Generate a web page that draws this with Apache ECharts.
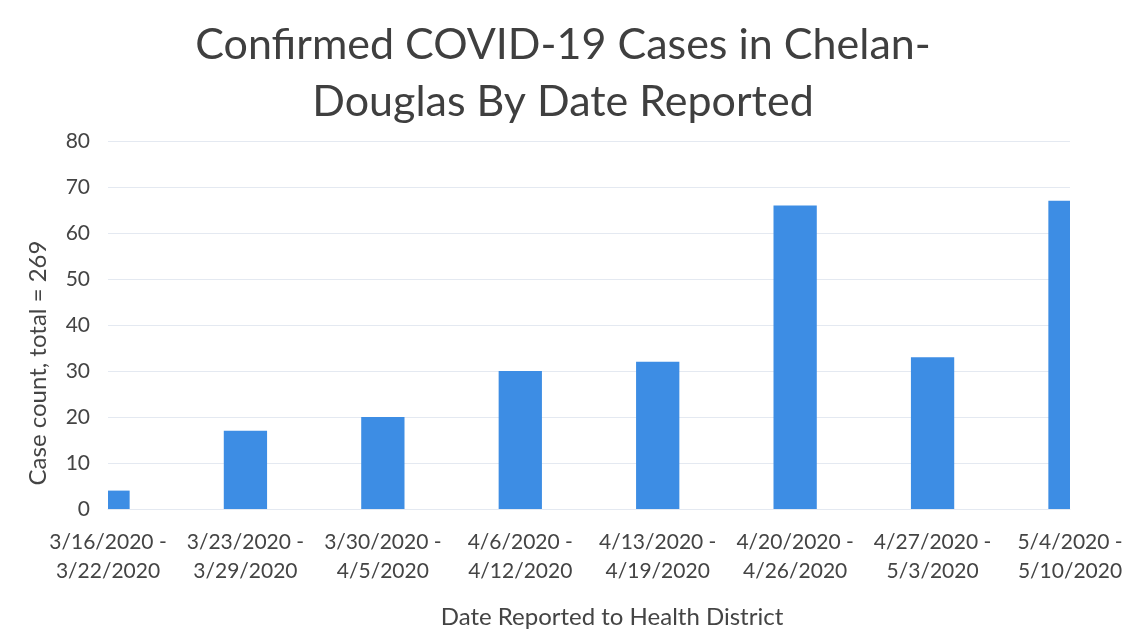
<!DOCTYPE html>
<html>
<head>
<meta charset="utf-8">
<script src="https://cdn.jsdelivr.net/npm/echarts@6/dist/echarts.min.js"></script>
<style>
html, body { margin: 0; padding: 0; background: #fff; }
#chart { width: 1126px; height: 633px; }
</style>
</head>
<body>
<div id="chart"></div>
<script>
// weekly ranges (date reported)
const weeks = [
  '3/16/2020 -\n3/22/2020',
  '3/23/2020 -\n3/29/2020',
  '3/30/2020 -\n4/5/2020',
  '4/6/2020 -\n4/12/2020',
  '4/13/2020 -\n4/19/2020',
  '4/20/2020 -\n4/26/2020',
  '4/27/2020 -\n5/3/2020',
  '5/4/2020 -\n5/10/2020'
]
const cases = [4, 17, 20, 30, 32, 66, 33, 67]
const yTicks = [0, 10, 20, 30, 40, 50, 60, 70, 80]

const font = 'Lato, "Open Sans", sans-serif'
const gridColor = '#e4e9f1'
const barColor = '#3d8de4'

// bars sit on the ticks (boundaryGap false), so the end bars get cut by the plot area
function renderBar (params, api) {
  const top = api.coord([api.value(0), api.value(1)])
  const base = api.coord([api.value(0), 0])
  const w = api.size([1, 0])[0] * 0.315
  const shape = echarts.graphic.clipRectByRect(
    { x: top[0] - w / 2, y: top[1], width: w, height: base[1] - top[1] },
    {
      x: params.coordSys.x,
      y: params.coordSys.y,
      width: params.coordSys.width,
      height: params.coordSys.height
    }
  )
  return shape && {
    type: 'rect',
    shape: shape,
    style: { fill: barColor }
  }
}

const myChart = echarts.init(document.getElementById('chart'))
myChart.setOption({
  animation: false,
  title: {
    text: 'Confirmed COVID-19 Cases in Chelan-\nDouglas By Date Reported',
    left: 'center',
    top: 12,
    textStyle: {
      fontFamily: font,
      fontSize: 43,
      lineHeight: 57,
      fontWeight: 'normal',
      color: '#3f3f3f'
    }
  },
  grid: {
    left: 108,
    right: 56,
    top: 141,
    bottom: 124,
    containLabel: false,
    outerBoundsMode: 'none'
  },
  xAxis: {
    type: 'category',
    data: weeks,
    boundaryGap: false,
    name: 'Date Reported to Health District',
    nameLocation: 'middle',
    nameGap: 96,
    nameTextStyle: {
      fontFamily: font,
      fontSize: 24,
      color: '#444',
      padding: [0, 0, 0, 46]
    },
    axisLine: { lineStyle: { color: gridColor } },
    axisTick: { show: false },
    axisLabel: {
      fontFamily: font,
      fontSize: 21,
      lineHeight: 29,
      color: '#444',
      margin: 19,
      interval: 0
    }
  },
  yAxis: {
    type: 'value',
    min: yTicks[0],
    max: yTicks[yTicks.length - 1],
    interval: 10,
    name: 'Case count, total = 269',
    nameLocation: 'middle',
    nameGap: 58,
    nameTextStyle: {
      fontFamily: font,
      fontSize: 24,
      color: '#444',
      padding: [0, 76, 0, 0]
    },
    axisLine: { show: false },
    axisTick: { show: false },
    axisLabel: { fontFamily: font, fontSize: 21, color: '#444', margin: 18 },
    splitLine: { lineStyle: { color: gridColor, width: 1 } }
  },
  series: [
    {
      type: 'custom',
      renderItem: renderBar,
      data: cases.map((v, i) => [i, v]),
      encode: { x: 0, y: 1 }
    }
  ]
})
</script>
</body>
</html>
